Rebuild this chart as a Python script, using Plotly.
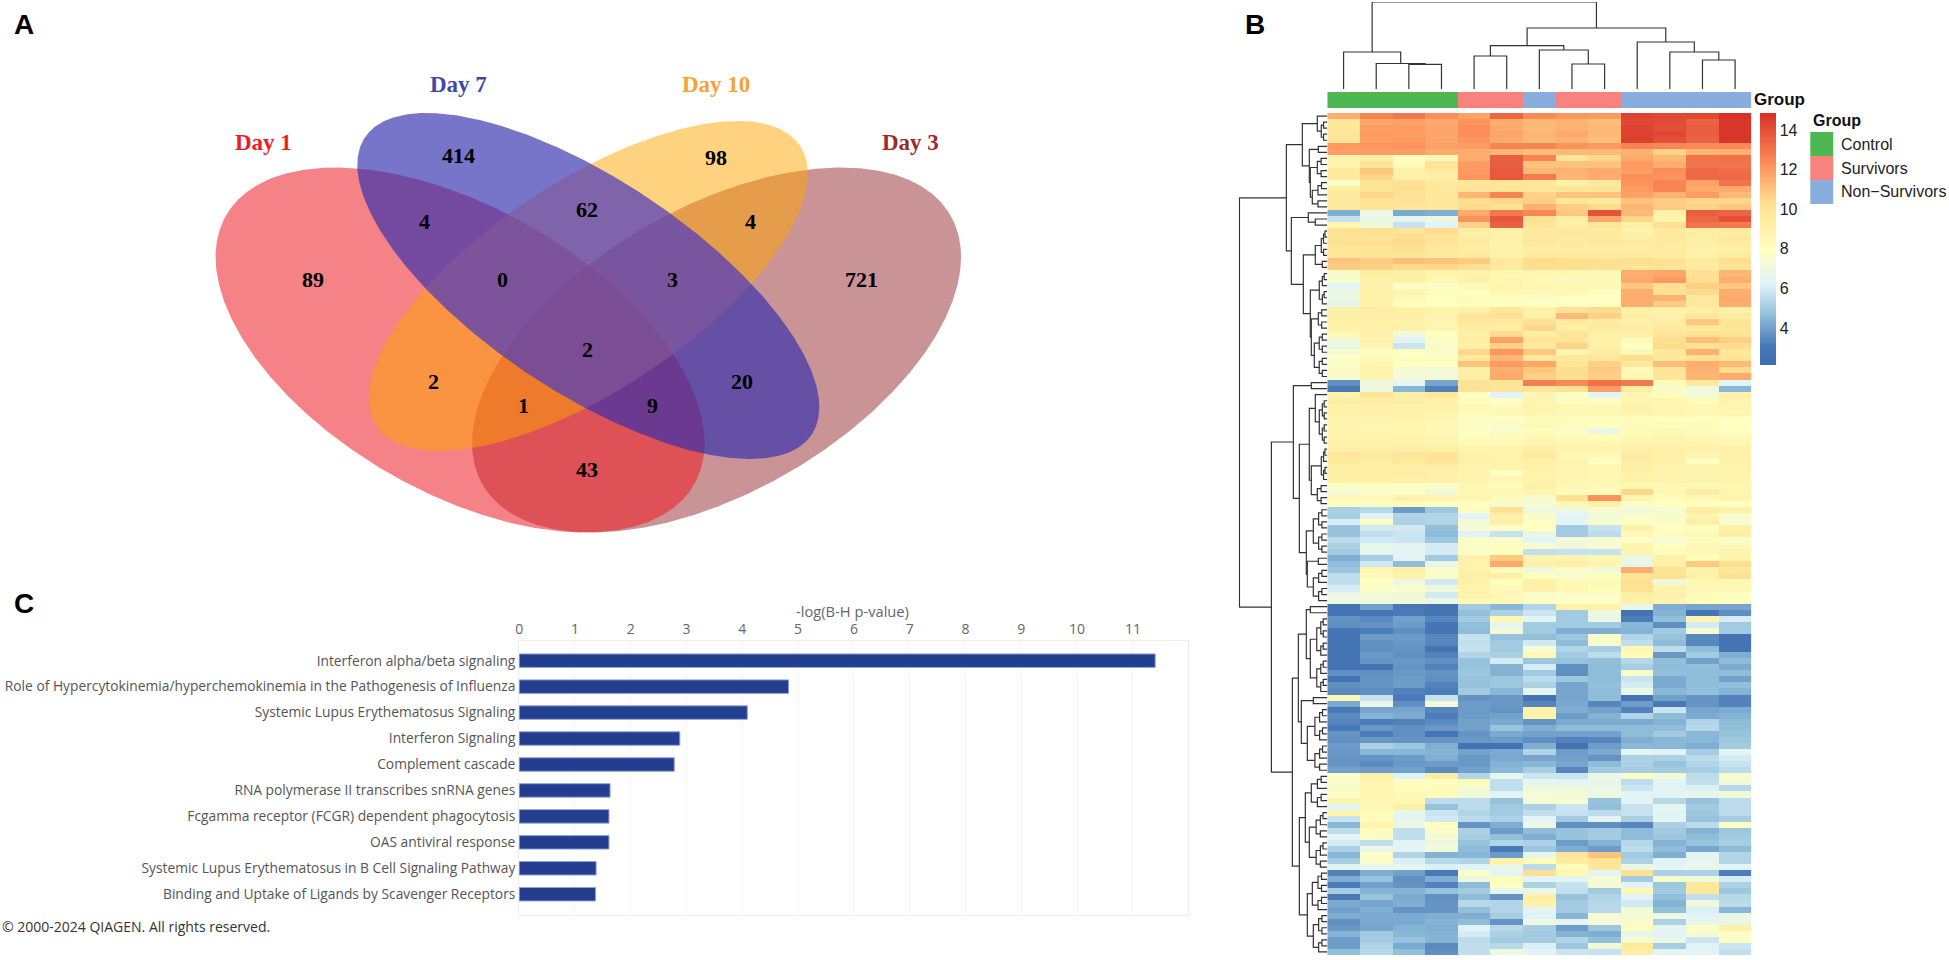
import numpy as np
import plotly.graph_objects as go

W, H = 1949, 960

# ---------- Panel A: Venn ----------
venn_sets = ["Day 1", "Day 7", "Day 10", "Day 3"]
venn_counts = [414, 98, 62, 4, 4, 89, 0, 3, 721, 2, 2, 20, 1, 9, 43]

# ---------- Panel C: bars ----------
pathways = [
    "Interferon alpha/beta signaling",
    "Role of Hypercytokinemia/hyperchemokinemia in the Pathogenesis of Influenza",
    "Systemic Lupus Erythematosus Signaling",
    "Interferon Signaling",
    "Complement cascade",
    "RNA polymerase II transcribes snRNA genes",
    "Fcgamma receptor (FCGR) dependent phagocytosis",
    "OAS antiviral response",
    "Systemic Lupus Erythematosus in B Cell Signaling Pathway",
    "Binding and Uptake of Ligands by Scavenger Receptors",
]
neg_log_p = [11.4, 4.83, 4.09, 2.88, 2.78, 1.63, 1.61, 1.61, 1.38, 1.37]
bar_ticks = list(range(12))

# ---------- Panel B: heatmap ----------
group_names = ["Control", "Survivors", "Non\u2212Survivors"]
column_groups = [0, 0, 0, 0, 1, 1, 2, 1, 1, 2, 2, 2, 2]
colorbar_ticks = [4, 6, 8, 10, 12, 14]

heat_rows_a = [
    [11.5,12.6,12.9,12.3,11.8,13.4,12.4,12.1,12.0,14.3,14.2,14.2,14.8],
    [9.7,11.7,11.8,11.6,12.2,11.5,11.2,11.4,11.1,14.2,14.1,13.5,14.7],
    [9.7,11.9,12,11.7,12.3,11.6,11.2,11.4,11.2,14.3,14,13.6,14.7],
    [9.8,12,11.9,11.7,12.3,11.7,11.3,11.6,11.2,14.4,14.2,13.6,14.7],
    [9.8,11.9,12,11.7,12.1,11.6,11.2,11.4,11.1,14.4,14,13.5,14.7],
    [12,12.1,12.2,11.8,11.9,12.6,12.6,12.2,12,12.6,12.5,12.4,12.4],
    [11.9,11.9,11.9,11.6,11.5,11.3,11.1,11.2,11.2,11.4,10.6,11.3,11.4],
    [8.8,9.2,7.9,8.5,11.5,13.6,12.6,10,10.5,11.6,11.2,13,13.1],
    [8.8,10,8.3,10,12,13.6,11,11,11,12,11.5,13,13],
    [9.6,10.9,9,9.5,12,13.7,11.2,11.4,11.6,11.9,12.3,13.3,13.2],
    [9.6,10.5,9,9.2,12.1,13.8,12.8,11.3,11.5,12.3,12.2,13.3,13.3],
    [7.7,10,10.1,9.6,9.8,9.9,9.8,9,9.6,12.2,12.6,11.8,13],
    [9.3,10,10.3,9.7,9.9,9.9,9.8,9.9,9.9,12,12.6,11.6,11.6],
    [9.4,10.5,10.1,9.8,11.3,12.6,10.6,11,11,11.8,11.4,11.9,11.2],
    [9.6,10,10,9.8,10.3,10.5,10.7,9.8,9.6,11,10.8,10.5,10.5],
    [9.6,10,9.9,9.7,10.4,10.2,11.4,10.7,10.4,11.3,10.8,10.6,10.9],
    [4.3,6.9,4.2,4.3,11.6,12.9,12.5,10.9,13.9,11.2,8.9,13.6,13.4],
    [5.7,6.8,6.5,7,12.2,13.8,10.1,9.3,11.7,10.5,8.8,13.4,14],
    [8.6,7.2,5.7,6.2,10.6,13.5,9.9,9.2,9.8,9.1,10.2,13,12.8],
    [10.1,10.2,10,10.4,9.2,9,9.6,9.6,9.5,8.9,9.5,9.3,9.4],
    [10.1,10,10.3,10,9.3,9,9.6,9.5,9.5,9.2,9.5,9.3,9.5],
    [10.2,10.2,10.4,9.9,9.5,8.9,9.6,9.5,9.6,9.4,9.5,9.2,9.5],
    [9.9,9.9,10.1,9.6,9.4,9,9.3,9.3,9.3,9.3,9.4,8.9,9.1],
    [9.8,9.9,10,9.7,9.5,9.1,9.5,9.5,9.5,9.4,9.4,9,9.4],
    [11,10.8,11.1,11,10.8,9.6,10.4,10.3,10.2,10.3,10.1,9.5,10.3],
    [10.8,10.6,10.4,10.5,10.2,9.6,10.3,10.3,10.2,10,10,9.5,10],
    [7.6,9.3,9.2,8.8,8.9,8.6,8.6,8.5,8.5,11.5,11.7,10.2,11.3],
    [7.5,9.2,9.1,8.6,9,8.7,8.5,8.4,8.4,11.6,12,10.3,11.5],
]
heat_rows_b = [
    [6.3,9,7.8,7.7,8.4,8.8,8.6,8.5,8.4,10.9,10.2,10.7,10.9],
    [6.9,9,8.7,8.2,8,8.6,8.5,8.4,7.9,11.5,10.1,10.4,11.5],
    [6.8,9,8.4,8,8.2,7.9,7.7,8,8,11.5,11.4,9.6,11.6],
    [6.6,8.9,8.1,8,8.1,8,7.9,7.8,7.9,11.5,10.8,9.6,11.5],
    [9.2,9.3,9.1,8.9,9,9.8,9.1,10.2,10.4,9.1,9,9.3,9.2],
    [9.1,9.3,9.2,8.9,9.9,10.2,9,11.2,10.6,9.2,9,9.8,9.4],
    [9,9.1,8.9,8.7,9.8,9.5,10.1,9.5,9.4,9.1,9.4,10.9,9.9],
    [9,9.1,9,8.7,9.3,9.3,10.5,9.2,9.6,9.3,9.5,9.7,9.9],
    [8.6,9,7.1,8,9.2,10.4,9.4,9.9,9.1,9.2,10,10.2,10],
    [7.2,8.9,6.4,7.9,9.2,11.8,9.9,9.9,9.1,8.4,10.3,11.1,10.7],
    [6.8,8.7,5.8,7.6,9.2,10.7,9.6,10.6,9,8,10.4,10.1,10.4],
    [7.5,7.9,8,7.8,10.5,12.1,10.9,8.7,9.4,8.5,9.7,11.4,9.8],
    [7.8,8.4,7.9,7.8,9.7,11.3,9.7,9.7,9.8,10.3,9.7,10.2,9.9],
    [7.7,8.8,7.9,7.9,11,12,11.7,10,10.7,9.7,11.1,11.5,11.2],
    [7.7,8.8,7.3,7.3,9.1,11.5,10.9,10.3,10.8,8.4,9.9,11.4,10.4],
    [7.6,8.8,7.3,7.3,9.2,11.6,10.7,10.3,10.7,8.5,9.9,11.3,11.6],
    [3.6,7,6.5,4.1,10,9.8,12.7,12.4,13.1,12.9,8.2,9.6,6.3],
    [3.1,7,4.5,3.3,10.2,9.9,9.8,10.1,11.9,9.2,7.5,7.1,4.5],
    [8.9,10,9.2,9.7,7.9,6.2,8.7,7.8,6.3,8.6,8.3,7.2,9],
    [9.2,9.3,9.2,9,8.3,7.8,8.7,8.2,8,8.7,8.7,8.2,8.8],
    [9,9,9,8.9,8.5,8.4,8.8,8.6,8.5,8.9,8.7,8.6,8.7],
    [9,8.9,8.9,8.8,8.3,8.4,8.7,8.5,8.5,8.8,8.7,8.6,8.6],
    [8.9,8.9,8.8,8.7,7.9,7.8,8.3,8.1,8.1,8.1,8,8,7.9],
    [8.8,8.7,8.7,8.5,7.8,7.7,8.4,8.2,8,8.2,8.2,8.2,8],
    [8.8,8.8,8.7,8.5,7.9,7.6,8.3,7.7,6.8,8.3,8.4,8.2,8],
    [8.9,8.9,8.8,8.7,8.1,8.2,8.5,8.4,8.3,8.6,8.7,8.5,8.4],
    [9,9,8.9,8.8,8.4,8.4,8.7,8.6,8.6,8.8,8.8,8.7,8.6],
]
heat_rows_c = [
    [9.2,9.2,9.2,9.2,8.8,8.9,9.3,8.8,8.8,9.1,9,9,9],
    [9.8,9.5,9.8,10,9,8.9,9.6,8.6,8.4,9.4,9.1,8.7,9],
    [9.6,9.4,9.7,9.9,9,8.9,9.1,8.7,7.9,9.3,9,8,8.9],
    [9.2,9.2,9.3,9.3,8.9,8.9,9.1,8.7,8.5,9.1,8.9,8.8,8.9],
    [9.2,9.2,9.3,9.1,8.8,8,8.9,8.7,8.6,9,8.8,8.8,8.9],
    [9.1,9.1,9.2,9,8.8,8.6,8.9,8.7,8.6,8.9,8.8,8.8,8.8],
    [7.8,7.9,7.9,7.7,8.5,8.3,9,8.5,8.4,8.6,8.5,8.4,8.6],
    [7.3,7.6,7.7,7.2,8.5,8.4,8.7,8.3,8.3,10.5,8.5,9.3,8.8],
    [8.5,8.4,9,8.7,8.7,8.3,7.5,10.2,12.2,8.7,8.3,8.5,8.8],
    [8,7.9,8.2,8,7.9,7.6,7.4,8.6,9.1,7.7,8,8,8],
    [5.2,5.4,3.9,4.9,8.1,10.1,7,6.9,7.5,7.2,7.4,9.4,9],
    [5.1,6.2,5.3,5.3,6.2,9,7.5,6.3,7.2,7.6,7.6,8.8,7.5],
    [6,8,5.2,5.3,7.3,9.2,8,6.3,7.5,8,7.7,9.2,7.5],
    [4.8,5.9,5.9,4.7,7.4,7.8,8,5,5.7,9,7.9,8,9.2],
    [4.8,5.6,5.8,4.6,6.2,5.7,6.8,5,5.5,8.4,8.1,8.4,9.3],
    [5.5,5.9,5.8,4.9,7.8,7.7,6.3,7.3,7.5,7.8,7.4,8.1,7.6],
    [5.2,6.6,6.4,6,7.7,7.9,7.5,7,7.4,8.8,8,8.4,8.4],
    [5,6.6,6.4,6,7.7,8,5.6,5.7,5.7,8.7,8.2,8.5,8.8],
    [4.3,5.1,6.4,5,9,10.8,8.8,8.7,8.5,6.8,9.1,8.3,8.9],
    [4.6,5.9,4.6,6.7,9,11.6,9,9.2,8.8,6.7,9.1,10.8,10.3],
    [4.9,8.7,9.1,7.6,8.9,8.3,7,7.7,7.2,11.5,10,8.9,9.8],
    [5.6,8.3,8.8,7.8,9.1,9.1,8,7.5,8,10,10.1,9,10.2],
    [5.6,7.9,7,5.9,9,8,9.1,8.4,8.4,10.1,7.2,8.6,8.5],
    [6,7.7,7.5,7,8.9,8.4,9,8.6,8.3,10.2,8.9,8.4,8.4],
    [6.7,7.3,7.2,5.9,8.8,8.5,7.6,7.7,7.7,9.2,9,8.2,8],
    [6.9,7,7.2,6.8,8.5,8.4,7.8,7.8,7.8,9,8.8,8.3,8],
]
heat_rows_d = [
    [2.9,4,3.1,2.9,5,4.5,5.3,8.9,9,6.7,4.3,4.1,4.1],
    [2.9,3,3.1,3,4.7,5.2,5.8,5,6.9,2.9,4.4,2.8,3.6],
    [3.7,3.5,4,3.4,5,8.6,6.3,5,6.8,3.2,4.7,8.7,6],
    [3.6,3.7,3.9,3,4.7,6.5,5,5,5,4.5,3.6,6,5],
    [3,3.2,3.6,3,4.6,7.3,5,4.3,4.3,4.4,5,7.4,5],
    [2.9,3.9,3.9,3.4,5.7,4.8,4.7,4.9,7.7,5.3,4.8,3.5,2.9],
    [2.9,3.6,3.8,3.4,5.6,5,5.9,4.6,7.6,5.6,4.6,3.4,3],
    [2.9,3.6,3.7,2.9,5.7,5,7.4,5.3,5.1,8.5,5.5,4.6,3],
    [2.9,3.8,3.6,3.3,5.3,5.2,8.4,5,5.5,8.3,3.8,5,4.3],
    [2.9,3.7,3.8,3.6,4.8,6,4.9,4.8,4.7,5.4,4.7,4,4.6],
    [2.9,2.9,3.7,3.3,4.8,4.4,6,3.6,4.6,5.1,4.6,4.7,4.2],
    [3.6,3.6,3.8,3.7,4.9,4.4,5,3.6,4.6,7.6,4.7,4.6,4.6],
    [2.9,3.7,3.9,3.6,4.8,4.9,5.5,4.9,4.6,5.8,4.2,4.6,4],
    [3.6,3.7,3.9,3.3,4.8,4.9,5.2,4.1,4.7,6,4.2,4.6,4.7],
    [3.5,3.6,3.3,3.2,5,4.5,6.5,4.1,4.6,6.7,4.5,4.7,4.4],
    [8.5,5.7,3.1,5.7,3.7,3.8,2.8,4.1,4.6,2.8,4,3.7,3.3],
    [4.2,6.8,3.6,7.3,3.9,3.8,3.4,4.2,3.4,3.9,3.1,3.7,3.3],
    [3.1,4.1,4.1,3.4,3.9,3.7,8.9,4.3,4,3.3,5.8,4.1,4.2],
    [3.5,4.4,4.2,3.2,3.9,4,8.9,3.9,4.4,5.3,4.6,4.2,4.4],
    [3.4,3.2,3.3,3.5,4,4.2,3.7,4.2,4.2,4.2,4.4,5.3,4.6],
    [3.1,3.8,3.6,3.8,4,4.8,4.3,4.6,4.6,4.6,4.6,5.4,4.7],
    [3.7,3.2,3.6,2.9,3.7,4.2,4,4,4,4.6,5,4.5,4.8],
    [3.6,3.8,3.7,3.7,3.8,3.9,3.6,3.3,3.4,4.3,4.5,4.5,4.9],
    [3.9,5.2,4.9,4.3,2.7,2.7,4.3,2.7,3.9,4.5,4.5,4.3,5],
    [3.8,4.5,4.5,4.4,4,4.2,5.3,3.9,4.2,6.5,6.2,5.1,6.5],
    [3.7,3.7,3.9,4.3,3.8,4.2,4.1,4,3.7,5.2,5.2,5.5,6],
    [3.7,3.5,3.8,3.9,3.8,4.4,4.5,4.1,4.6,5.2,4.8,5.3,5.7],
    [4,3.9,4,3.5,4,4.5,5.1,3.4,5,5.1,5,5.1,5.5],
]
heat_rows_e = [
    [7.8,9.1,6.2,9.3,5.3,6.5,5.8,5.8,6.7,7.8,7.3,5.5,7.5],
    [7.6,8.8,7.9,8,8.2,5.6,6.5,6.4,6.6,5.5,6.3,5.6,7.2],
    [7.6,8.7,8.3,8.2,7.4,5.6,7,7,6.7,5.8,6.4,6.1,5.4],
    [7.8,8.7,8.4,8.2,7.2,6.3,7.4,7.3,6.9,6.3,6.4,6.6,7.2],
    [8.9,8.6,8.6,5.5,5.5,4.8,7.3,7.4,4.8,6.3,5.4,4.8,5.5],
    [6.3,8.5,9.2,4.8,5.5,5,5.2,5.8,4.7,5.7,6.5,5,5.5],
    [8.8,8.3,6.5,5.8,5.3,5,5.6,5.7,5.5,5.7,6.4,4.9,5.5],
    [5.8,8.2,6.6,5.9,5.5,5.2,6.3,5,6.4,5.2,6.4,4.8,5.1],
    [4.5,8.7,6.8,8,3.7,4.3,6.9,3.6,3.6,3.4,5.2,5.5,7.8],
    [5.5,8.2,5.6,7.7,5.2,3.9,4.6,4.8,5,4.6,5,4.4,4.9],
    [6.3,7.7,5.6,7.3,5.1,4.7,4.3,4.8,5,4.6,4.9,4.6,5],
    [6,5.6,6.4,7,4.8,5.3,5.2,3.9,4.4,5.4,4.4,4.8,5.1],
    [5.2,6.7,6.4,7.2,4.6,3.1,4.9,4.3,3.9,5.5,4.6,4.1,4.6],
    [4.5,7.8,5.3,4.4,4.5,3.9,6.6,9.8,11,5,4.3,6.4,5.3],
    [5.1,7.6,6.1,5.4,5.3,8.9,8.3,9.4,10,5.2,6.2,6.5,5.3],
    [6.4,6.7,6.5,6.1,6.2,6.8,5.5,8.3,9.8,6.7,6.4,6.7,6.3],
    [3.3,4.3,4,3.1,7.8,6.4,10.2,8.6,6.4,10.1,5.2,5.2,3.2],
    [4.3,4.8,3.6,4.3,7,8.1,6.3,6.4,7.4,5,7.6,7.2,6],
    [3.1,4,3.7,3.3,4.6,8,5.2,5.7,7.3,6.3,4.9,9.8,5.2],
    [5.1,4.4,4.4,4.8,5,6.5,6.8,5.6,5,8.6,5,9.6,4.9],
    [3.1,4.8,4.2,3.6,4.6,3.7,9.2,4.8,5.3,6.2,4.7,5.6,5.4],
    [4.2,4.1,4.3,3.7,5.4,5.3,9,5,5.4,5.9,4.4,7,5.5],
    [4,4.3,3.7,3.7,4.7,5.3,6.3,5,5.4,7.3,4.7,6.1,4.5],
    [4.3,4.2,4.2,4.3,4.3,5.1,6.2,4.5,7.3,7.3,6.9,6.3,6.7],
    [3.6,4.2,4.2,4.4,4.6,3.7,7,6.4,7.3,7.6,5.2,6.6,6.7],
    [3.8,4.1,4.4,4.3,6.2,5.4,5.1,3.9,4.9,8.1,6.4,7.8,9.1],
    [4.4,5,4.5,4.4,6,5.2,5,4.4,4.3,6.6,6.3,7.3,7.7],
    [3.9,5,4.8,4.4,5.5,5,5,5.3,4.7,7.5,6.7,5.8,7.9],
    [3.9,5.3,4.2,3.5,5.6,5.4,6.1,4.9,7.2,9.5,5.1,6.2,5.8],
    [4.7,5.4,4.7,3.6,5.6,6.9,6.3,5.8,5.7,9.3,6.4,6.4,5.6],
]
heat_rows = heat_rows_a + heat_rows_b + heat_rows_c + heat_rows_d + heat_rows_e

# Dendrograms: node = [merge height, child, child]; leaf = index; (first, last, h) = small cluster
column_tree = [87,
    [37, 0, [25.5, 1, [24.7, 2, 3]]],
    [61,
        [43.3, [33, 4, 5], [39, 6, [25, 7, 8]]],
        [47, 9, [37, 10, [29, 11, 12]]]]]
row_tree = [88,
    [41,
        [25,
            [10, 0, (1, 4, 6)],
            [18, (5, 6, 9), [17, (7, 10, 10), (11, 15, 15)]]],
        [36,
            [19, 16, (17, 18, 12)],
            [24,
                [12, (19, 23, 6), (24, 25, 5)],
                [17, (26, 31, 8), [16, (32, 35, 9), (36, 43, 13)]]]]],
    [56,
        [34,
            [16, 44, 45],
            [28,
                [18,
                    [12, 46, (47, 54, 8)],
                    [16, (55, 60, 6), (61, 64, 10)]],
                [21,
                    (65, 72, 14),
                    [20, (73, 74, 9), (75, 80, 14)]]]],
        [35,
            [29,
                [21, (81, 82, 17), (83, 95, 17)],
                [26, (96, 97, 14), (98, 108, 20)]],
            [28,
                [22, (109, 114, 16), (115, 124, 18)],
                [20, (125, 131, 15), (132, 138, 14)]]]]]

# ---------- style ----------
FONT_SANS = "Liberation Sans"
FONT_SERIF = "Liberation Serif"
FONT_UI = "Open Sans"
HEAT_L, HEAT_R, HEAT_T, HEAT_B = 1326, 1751, 113, 955
DEND_L, DEND_T, DEND_B = 1237, 2, 89
ANNOT_T, ANNOT_B = 92, 108
BAR_L, BAR_R, BAR_T, BAR_B = 516.2, 1186, 640.7, 915
HEAT_SCALE = [[0, "#3F6FB0"], [0.07, "#4575B4"], [0.2, "#91BFDB"], [0.32, "#E0F3F8"], [0.46, "#FFFFBF"],
              [0.64, "#FEE090"], [0.8, "#FC8D59"], [1, "#D73027"]]
GROUP_COLORS = ["#4DB851", "#F8827D", "#88AEDD"]


def dx(a, b):
    return [a / W, b / W]


def dy(top, bottom):
    return [1 - bottom / H, 1 - top / H]


def small(first, last, h):
    if first == last:
        return first
    if last == first + 1:
        return [h, first, last]
    mid = (first + last) // 2
    return [h, small(first, mid, h * 0.62), small(mid + 1, last, h * 0.62)]


def walk(node, xs, ys):
    """returns (position, height); appends bracket segments."""
    if isinstance(node, int):
        return node, 0.0
    if isinstance(node, tuple):
        node = small(*node)
    h, a, b = node
    pa, ha = walk(a, xs, ys)
    pb, hb = walk(b, xs, ys)
    xs += [pa, pa, pb, pb, None]
    ys += [ha, h, h, hb, None]
    return (pa + pb) / 2, h


fig = go.Figure()

# Venn ellipses (centre x, centre y, half width, half height, correlation)
venn_shapes = [
    ("Day 3", 714, 350, 245, 182.5, -0.51, "rgba(150,40,45,0.50)"),
    ("Day 1", 457, 350, 245, 182.5, 0.51, "rgba(237,28,36,0.55)"),
    ("Day 10", 585.5, 286, 220, 165, -0.68, "rgba(255,165,0,0.50)"),
    ("Day 7", 585.5, 286, 231.5, 173, 0.70, "rgba(48,45,175,0.66)"),
]
t = np.linspace(0, 2 * np.pi, 721)
outlines = {}
for name, cx, cy, hx, hy, rho, col in venn_shapes:
    delta = np.arccos(rho)
    ex, ey = cx + hx * np.cos(t), cy + hy * np.cos(t - delta)
    outlines[name] = (ex, ey)
    fig.add_trace(go.Scatter(x=ex, y=ey, mode="lines", line=dict(width=0), fill="toself", fillcolor=col,
                             hoverinfo="skip", name=name, xaxis="x", yaxis="y"))

# Purple tint where Day 7 and Day 10 overlap (both share one centre, so take the smaller radius per angle)
OVERLAP_CX, OVERLAP_CY = 585.5, 286
angles = np.linspace(-np.pi, np.pi, 1441)
radii = []
for name in ("Day 7", "Day 10"):
    ex, ey = outlines[name]
    ang = np.arctan2(ey - OVERLAP_CY, ex - OVERLAP_CX)
    rad = np.hypot(ex - OVERLAP_CX, ey - OVERLAP_CY)
    order = np.argsort(ang)
    radii.append(np.interp(angles, ang[order], rad[order], period=2 * np.pi))
rmin = np.minimum(*radii)
fig.add_trace(go.Scatter(x=OVERLAP_CX + rmin * np.cos(angles), y=OVERLAP_CY + rmin * np.sin(angles),
                         mode="lines", line=dict(width=0), fill="toself", fillcolor="rgba(150,90,210,0.25)",
                         hoverinfo="skip", xaxis="x", yaxis="y"))

# Bars
fig.add_trace(go.Bar(x=neg_log_p, y=pathways, orientation="h",
                     marker=dict(color="#233E8F", line=dict(color="#8fa3d6", width=1)),
                     xaxis="x2", yaxis="y2", width=0.52))

# Heatmap
fig.add_trace(go.Heatmap(z=heat_rows, xaxis="x3", yaxis="y3", zmin=2.13, zmax=14.86,
                         colorscale=HEAT_SCALE, xgap=0, ygap=0,
                         colorbar=dict(x=1760 / W, xanchor="left", y=1 - HEAT_T / H, yanchor="top",
                                       len=252 / H, lenmode="fraction", thickness=16, thicknessmode="pixels",
                                       xpad=0, ypad=0, outlinewidth=0, ticks="", tickvals=colorbar_ticks,
                                       tickfont=dict(family=FONT_SANS, size=16, color="#222"))))
fig.add_trace(go.Heatmap(z=[column_groups], xaxis="x3", yaxis="y4", zmin=0, zmax=2, showscale=False,
                         colorscale=[[0, GROUP_COLORS[0]], [0.33, GROUP_COLORS[0]], [0.33, GROUP_COLORS[1]],
                                     [0.66, GROUP_COLORS[1]], [0.66, GROUP_COLORS[2]], [1, GROUP_COLORS[2]]]))

# Dendrograms
xs, ys = [], []
walk(column_tree, xs, ys)
fig.add_trace(go.Scatter(x=xs, y=ys, mode="lines", line=dict(color="#333", width=1.2),
                         xaxis="x3", yaxis="y5", hoverinfo="skip"))
xs, ys = [], []
walk(row_tree, xs, ys)
fig.add_trace(go.Scatter(x=[None if v is None else -v for v in ys], y=xs, mode="lines",
                         line=dict(color="#333", width=1.2), xaxis="x4", yaxis="y3", hoverinfo="skip"))

hidden = dict(visible=False, showgrid=False, zeroline=False)
n_rows = len(heat_rows)
layout = dict(
    width=W, height=H, autosize=False, margin=dict(l=0, r=0, t=0, b=0),
    paper_bgcolor="white", plot_bgcolor="rgba(0,0,0,0)", showlegend=False, bargap=0.49,
    xaxis=dict(domain=[0, 1], range=[0, W], **hidden),
    yaxis=dict(domain=[0, 1], range=[H, 0], **hidden),
    xaxis2=dict(domain=dx(BAR_L, BAR_R), range=[0, 11.98], side="top", anchor="y2", tickvals=bar_ticks,
                showgrid=True, gridcolor="#f6f6f6", zeroline=False, showline=True, linecolor="#eeeeee",
                mirror=True, ticks="", tickfont=dict(family=FONT_UI, size=14, color="#666")),
    yaxis2=dict(domain=dy(BAR_T, BAR_B), anchor="x2", range=[9.8, -0.77], categoryorder="array",
                categoryarray=pathways, showgrid=False, zeroline=False, ticks="", showline=True,
                linecolor="#eeeeee", mirror=True, tickfont=dict(family=FONT_UI, size=13.8, color="#555")),
    xaxis3=dict(domain=dx(HEAT_L, HEAT_R), range=[-0.5, 12.5], anchor="y3", **hidden),
    yaxis3=dict(domain=dy(HEAT_T, HEAT_B), range=[n_rows - 0.5, -0.5], anchor="x3", **hidden),
    yaxis4=dict(domain=dy(ANNOT_T, ANNOT_B), range=[-0.5, 0.5], anchor="x3", **hidden),
    yaxis5=dict(domain=dy(DEND_T, DEND_B), range=[0, 87], anchor="x3", **hidden),
    xaxis4=dict(domain=dx(DEND_L, HEAT_L), range=[-89, 0], anchor="y3", **hidden),
)


def note(text, px, py, size, color="#000", family=FONT_SANS, bold=False, anchor="center"):
    return dict(text=f"<b>{text}</b>" if bold else text, x=px / W, y=1 - py / H, xref="paper", yref="paper",
                xanchor=anchor, yanchor="middle", showarrow=False,
                font=dict(family=family, size=size, color=color))


venn_count_xy = [(455.5, 156), (713.5, 157), (584.5, 209), (421.5, 221), (748.5, 221), (309.5, 279), (499.5, 279),
                 (669.5, 279), (859.5, 279), (584.5, 350), (430.5, 381), (739.5, 381), (520.5, 406), (649.5, 406),
                 (584.5, 469)]
venn_label_xy = [(260.5, 143), (455.5, 85), (713.5, 85), (908.5, 143)]
venn_label_colors = ["#ED1C24", "#3F48A8", "#F7A233", "#9E2A2B"]

notes = [note("A", 20, 25, 28, bold=True), note("B", 1254, 25, 28, bold=True), note("C", 20, 603, 28, bold=True)]
for c, (px, py) in zip(venn_counts, venn_count_xy):
    notes.append(note(c, px, py, 22, family=FONT_SERIF, bold=True))
for s, (px, py), col in zip(venn_sets, venn_label_xy, venn_label_colors):
    notes.append(note(s, px, py, 23, color=col, family=FONT_SERIF, bold=True))
notes.append(note("-log(B-H p-value)", 850, 611, 14.7, color="#666", family=FONT_UI))
notes.append(note("\u00a9 2000-2024 QIAGEN. All rights reserved.", 132.5, 926, 14, color="#333", family=FONT_UI))
notes.append(note("Group", 1752, 100, 17, color="#111", bold=True, anchor="left"))
notes.append(note("Group", 1811, 120, 16, color="#111", bold=True, anchor="left"))

shapes = []
LEG_T = 132
for i, (g, col) in enumerate(zip(group_names, GROUP_COLORS)):
    shapes.append(dict(type="rect", xref="paper", yref="paper", x0=1810 / W, x1=1833 / W,
                       y0=1 - (LEG_T + 24 * i) / H, y1=1 - (LEG_T + 24 * (i + 1)) / H,
                       fillcolor=col, line=dict(width=0)))
    notes.append(note(g, 1839, LEG_T + 12 + 24 * i, 16, color="#222", anchor="left"))

fig.update_layout(**layout, annotations=notes, shapes=shapes)
fig.write_html("out.html", config=dict(displayModeBar=False),
               post_script="document.body.style.margin='0';document.body.style.overflow='hidden';")
